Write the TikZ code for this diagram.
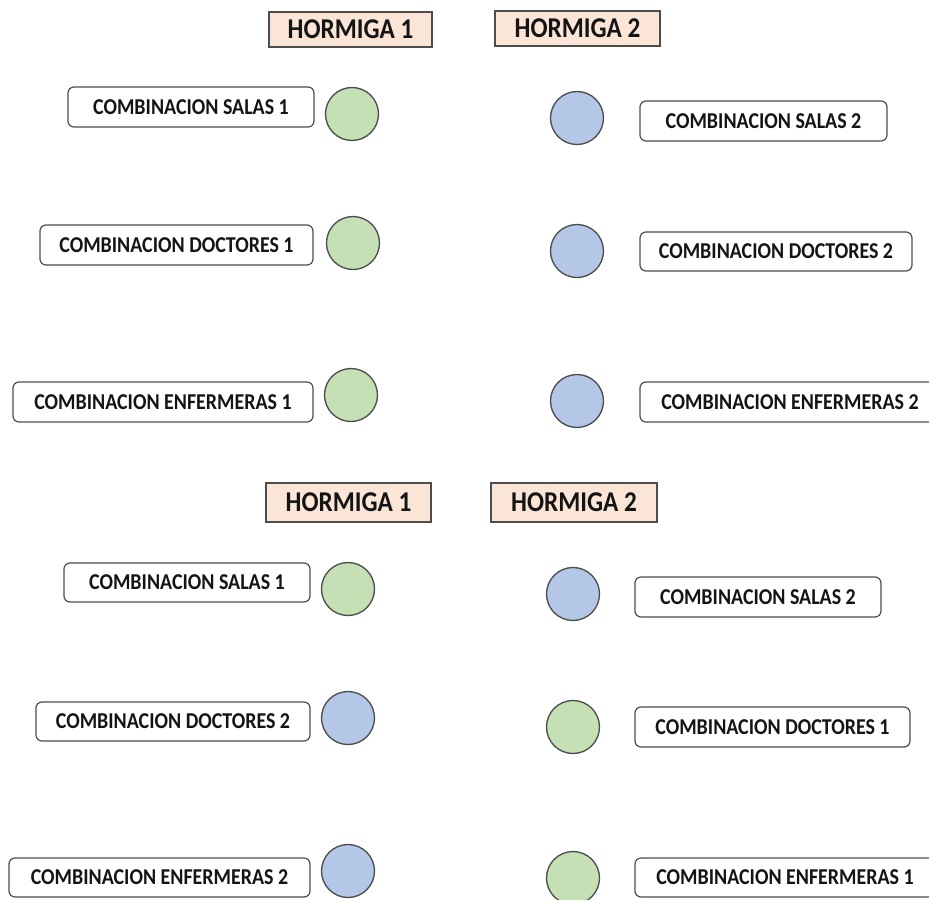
\documentclass[tikz,border=0pt]{standalone}
\usepackage{fontspec}
\setmainfont{Carlito}[FakeStretch=0.88]
\definecolor{antgreen}{HTML}{C5E0B4}
\definecolor{antblue}{HTML}{B4C7E7}
\definecolor{antpeach}{HTML}{FBE5D6}
\definecolor{edgegray}{HTML}{4D4D4D}
\definecolor{txt}{HTML}{141414}
\tikzset{
  antlabel/.style={draw=edgegray, line width=0.9pt, fill=antpeach, inner sep=0pt,
    font=\fontsize{21.5}{24}\selectfont\bfseries, text=txt},
  combox/.style={draw=edgegray, line width=0.9pt, rounded corners=4.5pt, fill=white, inner sep=0pt,
    font=\fontsize{17}{20}\selectfont\bfseries, text=txt},
  dot/.style={circle, draw=edgegray, line width=1pt, minimum size=39.75pt, inner sep=0pt},
  gdot/.style={dot, fill=antgreen},
  bdot/.style={dot, fill=antblue}
}
\begin{document}
\begin{tikzpicture}[x=0.75pt, y=-0.75pt]
\useasboundingbox (0,0) rectangle (929,900);
\clip (0,0) rectangle (929,900);
% ---------- top ----------
\node[antlabel, minimum width=122.25pt, minimum height=26.25pt] (ha1) at (350.5,29.5) {HORMIGA 1};
\node[antlabel, minimum width=123.75pt, minimum height=26.25pt] (ha2) at (577.5,28.5) {HORMIGA 2};
\node[combox, minimum width=184.5pt, minimum height=30pt] (sa1) at (191,107) {COMBINACION SALAS 1};
\node[gdot] (csa1) at (352,114) {};
\node[bdot] (csa2) at (577,118) {};
\node[combox, minimum width=185.25pt, minimum height=30pt] (sa2) at (763.5,121) {COMBINACION SALAS 2};
\node[combox, minimum width=204.75pt, minimum height=30pt] (da1) at (176.5,245) {COMBINACION DOCTORES 1};
\node[gdot] (cda1) at (353,243) {};
\node[bdot] (cda2) at (577,251) {};
\node[combox, minimum width=204pt, minimum height=29.25pt] (da2) at (776,251.5) {COMBINACION DOCTORES 2};
\node[combox, minimum width=225pt, minimum height=30pt] (ea1) at (163,402) {COMBINACION ENFERMERAS 1};
\node[gdot] (cea1) at (351,395) {};
\node[bdot] (cea2) at (577,401) {};
\node[combox, minimum width=225pt, minimum height=30pt] (ea2) at (790,402) {COMBINACION ENFERMERAS 2};
% ---------- bottom ----------
\node[antlabel, minimum width=123.75pt, minimum height=29.25pt] (hb1) at (348.5,502.5) {HORMIGA 1};
\node[antlabel, minimum width=124.5pt, minimum height=29.25pt] (hb2) at (574,502.5) {HORMIGA 2};
\node[combox, minimum width=184.5pt, minimum height=29.25pt] (sb1) at (187,582.5) {COMBINACION SALAS 1};
\node[gdot] (csb1) at (348,589) {};
\node[bdot] (csb2) at (573,594) {};
\node[combox, minimum width=184.5pt, minimum height=30pt] (sb2) at (758,597) {COMBINACION SALAS 2};
\node[combox, minimum width=205.5pt, minimum height=29.25pt] (db2) at (173,721.5) {COMBINACION DOCTORES 2};
\node[bdot] (cdb2) at (348,718) {};
\node[gdot] (cdb1) at (573,727) {};
\node[combox, minimum width=206.25pt, minimum height=30pt] (db1) at (772.5,727) {COMBINACION DOCTORES 1};
\node[combox, minimum width=225.75pt, minimum height=29.25pt] (eb2) at (159.5,877.5) {COMBINACION ENFERMERAS 2};
\node[bdot] (ceb2) at (348,871) {};
\node[gdot] (ceb1) at (573,878) {};
\node[combox, minimum width=225pt, minimum height=29.25pt] (eb1) at (785,877.5) {COMBINACION ENFERMERAS 1};
\end{tikzpicture}
\end{document}
